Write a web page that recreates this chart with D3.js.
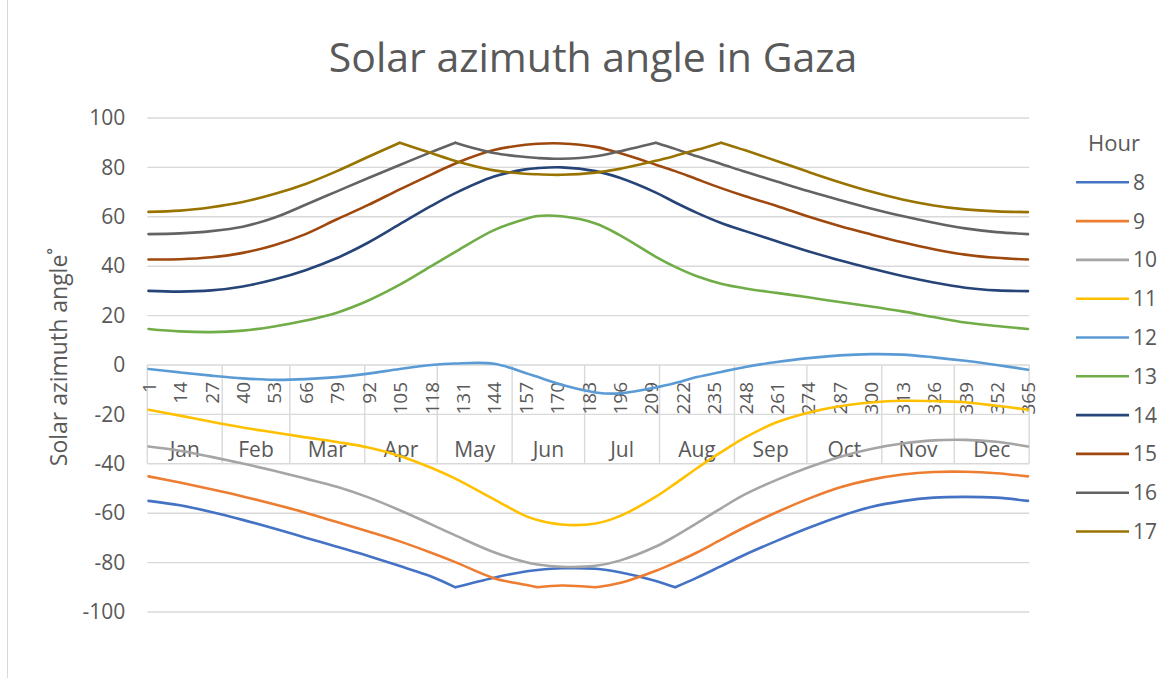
<!DOCTYPE html>
<html>
<head>
<meta charset="utf-8">
<script src="https://cdn.jsdelivr.net/npm/d3@7"></script>
<style>
  html, body { margin: 0; padding: 0; background: #fff; }
  svg { display: block; font-family: "Open Sans", sans-serif; }
</style>
</head>
<body>
<svg id="chart" width="1174" height="678"></svg>
<script>
// Day of year at which each hourly azimuth value is sampled
const days = [1, 14, 27, 40, 53, 66, 79, 92, 105, 118, 128, 144, 157, 162, 172, 186, 196, 211, 219, 228, 238, 248, 261, 274, 287, 300, 313, 326, 339, 352, 365];

// Solar azimuth angle (degrees) for each hour of the day
const hour8  = [-55, -56.8, -59.5, -62.7, -66.2, -69.9, -73.6, -77.3, -81.4, -85.6, -90, -86.1, -83.6, -83, -82.3, -82.5, -83.9, -87.4, -90, -86.1, -81.4, -76.7, -71.2, -66, -61.3, -57.5, -55.1, -53.7, -53.4, -53.7, -55];
const hour9  = [-45.1, -47.6, -50.3, -53.2, -56.4, -59.8, -63.6, -67.4, -71.4, -76, -79.8, -86.3, -89, -90, -89.3, -90, -88.3, -83.3, -80, -75.9, -70.7, -65.6, -59.6, -54.2, -49.6, -46.4, -44.3, -43.3, -43.2, -43.8, -45.1];
const hour10 = [-33, -34.7, -37.2, -39.9, -42.8, -46, -49.3, -53.6, -58.8, -64.5, -69, -75.8, -79.8, -80.8, -81.7, -81.3, -79.2, -73.5, -69.3, -64, -58, -52.3, -46.5, -41.5, -37.2, -34, -31.8, -30.5, -30.3, -31.1, -33];
const hour11 = [-18.1, -20.5, -23, -25.3, -27.3, -29.3, -31.2, -33.4, -36.8, -41.6, -46, -54.4, -61.1, -62.8, -64.6, -64.2, -61.2, -53.3, -48, -41.8, -35.3, -29.3, -23.2, -19.3, -16.7, -15.2, -14.5, -14.6, -15.1, -16.5, -18.1];
const hour12 = [-1.6, -3, -4.3, -5.4, -6, -5.7, -4.9, -3.5, -1.6, 0, 0.6, 0.5, -3.2, -4.8, -8, -11.1, -11.5, -9.1, -7.3, -4.9, -2.8, -0.8, 1.2, 2.8, 3.9, 4.4, 4.2, 3.1, 1.7, 0, -1.9];
const hour13 = [14.6, 13.6, 13.3, 13.9, 15.6, 18, 21.2, 26.1, 32.5, 40, 45.8, 54.6, 59.1, 60.3, 60.2, 57.3, 52.6, 43.8, 39.7, 35.9, 32.9, 31, 29.2, 27.4, 25.5, 23.7, 21.7, 19.4, 17.2, 15.8, 14.6];
const hour14 = [30, 29.7, 30.2, 31.8, 34.6, 38.4, 43.3, 49.6, 57, 64.4, 69.6, 76.3, 79.2, 79.7, 80, 78.5, 75.8, 69.8, 65.8, 61.6, 57.5, 54.2, 50.1, 46.1, 42.4, 39.1, 36, 33.4, 31.3, 30.2, 29.9];
const hour15 = [42.7, 42.8, 43.6, 45.4, 48.5, 53, 59, 64.8, 71.1, 77.1, 81.6, 87, 89.2, 89.6, 89.7, 88.3, 85.8, 81.1, 78.5, 75.2, 71.6, 68.3, 64.4, 60.1, 56.3, 52.9, 49.7, 46.9, 44.7, 43.4, 42.7];
const hour16 = [53, 53.3, 54.2, 56, 59.6, 64.9, 70.3, 75.7, 81, 86.2, 90, 85.8, 84.2, 83.8, 83.5, 84.5, 86.5, 90, 87.5, 84.5, 81.4, 78.2, 74.3, 70.4, 66.8, 63.4, 60.3, 57.6, 55.3, 53.8, 53];
const hour17 = [62, 62.5, 63.9, 66, 69.2, 73.3, 78.5, 84.3, 90, 85.8, 82.6, 78.8, 77.4, 77.2, 77, 77.9, 79.4, 82.7, 84.7, 87.1, 90, 86.9, 82.6, 78.2, 74, 70.2, 67, 64.6, 63, 62.2, 61.9];

const hourLabels = ["8", "9", "10", "11", "12", "13", "14", "15", "16", "17"];
const hourSeries = [hour8, hour9, hour10, hour11, hour12, hour13, hour14, hour15, hour16, hour17];
const hourColors = ["#4472C4", "#ED7D31", "#A5A5A5", "#FFC000", "#5B9BD5", "#70AD47", "#264478", "#9E480E", "#636363", "#997300"];

// Category axis: day-of-year labels and month groups
const dayTicks = [1, 14, 27, 40, 53, 66, 79, 92, 105, 118, 131, 144, 157, 170, 183, 196, 209, 222, 235, 248, 261, 274, 287, 300, 313, 326, 339, 352, 365];
const months = ["Jan", "Feb", "Mar", "Apr", "May", "Jun", "Jul", "Aug", "Sep", "Oct", "Nov", "Dec"];
const monthLengths = [31, 28, 31, 30, 31, 30, 31, 31, 30, 31, 30, 31];
const yTicks = [-100, -80, -60, -40, -20, 0, 20, 40, 60, 80, 100];

const textColor = "#595959";
const gridColor = "#d9d9d9";

const svg = d3.select("#chart");

// Outer chart border (left edge visible)
svg.append("line")
  .attr("x1", 7.5).attr("x2", 7.5).attr("y1", 0).attr("y2", 678)
  .attr("stroke", gridColor).attr("stroke-width", 1);

const x = d3.scaleLinear().domain([0.5, 365.5]).range([147.3, 1029.2]);
const y = d3.scaleLinear().domain([-100, 100]).range([612, 118]);

// Title
svg.append("text")
  .attr("x", 593).attr("y", 72)
  .attr("text-anchor", "middle")
  .attr("font-size", 41)
  .attr("fill", textColor)
  .text("Solar azimuth angle in Gaza");

// Horizontal gridlines
svg.append("g").selectAll("line")
  .data(yTicks)
  .join("line")
  .attr("x1", x.range()[0]).attr("x2", x.range()[1])
  .attr("y1", d => y(d)).attr("y2", d => y(d))
  .attr("stroke", gridColor).attr("stroke-width", 1.4);

// Value axis labels (plain hyphen for negatives)
const yAxis = svg.append("g")
  .attr("transform", `translate(${x.range()[0]},0)`)
  .call(d3.axisLeft(y).tickValues(yTicks).tickSize(0).tickPadding(22).tickFormat(d => String(d)));
yAxis.select(".domain").remove();
yAxis.selectAll("text")
  .attr("font-size", 21)
  .attr("font-family", "Open Sans, sans-serif")
  .attr("fill", textColor);

// Value axis title
svg.append("text")
  .attr("transform", "translate(67,357) rotate(-90)")
  .attr("text-anchor", "middle")
  .attr("font-size", 23)
  .attr("fill", textColor)
  .text("Solar azimuth angle˚");

// Month group separators spanning both label rows
const boundaries = [0.5];
monthLengths.forEach(n => boundaries.push(boundaries[boundaries.length - 1] + n));
svg.append("g").selectAll("line")
  .data(boundaries)
  .join("line")
  .attr("x1", d => x(d)).attr("x2", d => x(d))
  .attr("y1", y(0)).attr("y2", y(-40))
  .attr("stroke", gridColor).attr("stroke-width", 1.4);

// Day-of-year labels, rotated
const xAxis = svg.append("g")
  .attr("transform", `translate(0,${y(0)})`)
  .call(d3.axisBottom(x).tickValues(dayTicks).tickSize(0).tickFormat(d => String(d)));
xAxis.select(".domain").remove();
xAxis.selectAll("text")
  .attr("transform", "rotate(-90)")
  .attr("x", -17).attr("y", 0).attr("dy", "0.36em")
  .attr("text-anchor", "end")
  .attr("font-size", 19)
  .attr("font-family", "Open Sans, sans-serif")
  .attr("fill", textColor);

// Month labels
svg.append("g").selectAll("text")
  .data(months)
  .join("text")
  .attr("x", (d, i) => (x(boundaries[i]) + x(boundaries[i + 1])) / 2)
  .attr("y", 457)
  .attr("text-anchor", "middle")
  .attr("font-size", 21)
  .attr("fill", textColor)
  .text(d => d);

// Smoothed lines; an angle that reaches ±90° folds back, so the curve is
// split there to keep the sharp corner
const line = d3.line()
  .x(d => x(d[0]))
  .y(d => y(d[1]))
  .curve(d3.curveCatmullRom.alpha(0.5));

function pathFor(vals) {
  const pts = days.map((d, i) => [d, vals[i]]);
  const cuts = [];
  vals.forEach((v, i) => {
    if (i > 0 && i < vals.length - 1 && Math.abs(v) >= 90) cuts.push(i);
  });
  const parts = [];
  let start = 0;
  cuts.forEach(c => { parts.push(pts.slice(start, c + 1)); start = c; });
  parts.push(pts.slice(start));
  return parts.map(p => line(p)).join("");
}

svg.append("g").selectAll("path")
  .data(hourSeries)
  .join("path")
  .attr("d", d => pathFor(d))
  .attr("fill", "none")
  .attr("stroke", (d, i) => hourColors[i])
  .attr("stroke-width", 2.6)
  .attr("stroke-linejoin", "round")
  .attr("stroke-linecap", "round");

// Legend
const legend = svg.append("g");
legend.append("text")
  .attr("x", 1088).attr("y", 151)
  .attr("font-size", 22)
  .attr("fill", textColor)
  .text("Hour");
const items = legend.selectAll("g.item")
  .data(hourLabels)
  .join("g")
  .attr("class", "item")
  .attr("transform", (d, i) => `translate(0,${182.3 + i * 38.8})`);
items.append("line")
  .attr("x1", 1076).attr("x2", 1129)
  .attr("y1", 0).attr("y2", 0)
  .attr("stroke", (d, i) => hourColors[i])
  .attr("stroke-width", 2.6);
items.append("text")
  .attr("x", 1133).attr("y", 0).attr("dy", "0.36em")
  .attr("font-size", 21)
  .attr("fill", textColor)
  .text(d => d);
</script>
</body>
</html>
